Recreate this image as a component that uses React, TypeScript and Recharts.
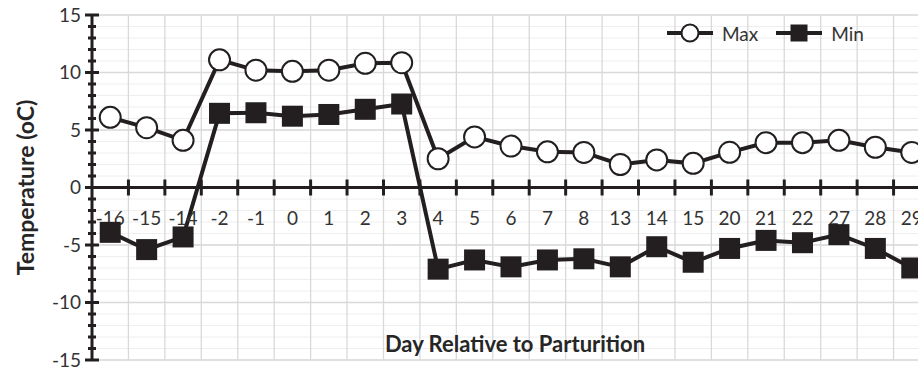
import React from 'react';
import { LineChart, Line, XAxis, YAxis, CartesianGrid, ReferenceLine, Legend, Label } from 'recharts';

const days = ['-16', '-15', '-14', '-2', '-1', '0', '1', '2', '3', '4', '5', '6', '7', '8', '13', '14', '15', '20', '21', '22', '27', '28', '29'];
const maxTemp = [6.1, 5.2, 4.1, 11.1, 10.2, 10.1, 10.2, 10.8, 10.85, 2.5, 4.4, 3.6, 3.1, 3.05, 2.0, 2.4, 2.1, 3.06, 3.9, 3.9, 4.1, 3.5, 3.05];
const minTemp = [-3.9, -5.4, -4.3, 6.45, 6.5, 6.2, 6.35, 6.8, 7.26, -7.1, -6.3, -6.9, -6.3, -6.2, -6.9, -5.15, -6.5, -5.3, -4.6, -4.8, -4.1, -5.3, -7.0];
const yTicks = [-15, -10, -5, 0, 5, 10, 15];
const seriesNames = ['Max', 'Min'];

const data = days.map((d, i) => ({ idx: i, day: d, max: maxTemp[i], min: minTemp[i] }));

const INK = '#231f20';
const TXT = '#333';
const FONT = 'Lato, "Open Sans", sans-serif';
const CHART_W = 940;
const CHART_H = 371;
const MARGIN = { top: 15, right: 10, bottom: 0, left: 0 };
const Y_W = 92;
const X_H = 11;
const PLOT_W = CHART_W - MARGIN.left - MARGIN.right - Y_W;
const PLOT_H = CHART_H - MARGIN.top - MARGIN.bottom - X_H;
const BAND = PLOT_W / days.length;

const yMin = yTicks[0];
const yMax = yTicks[yTicks.length - 1];
const minorY = Array.from({ length: yMax - yMin + 1 }, (_, k) => yMin + k);
const xIdx = days.map((_, i) => i);
const xBounds = Array.from({ length: days.length + 1 }, (_, k) => k - 0.5);

const YTick = (props: any) => {
  const { x, y, payload } = props;
  const v = payload.value as number;
  const major = v % 5 === 0;
  const half = major ? 7 : 4;
  return (
    <g>
      <line x1={x - half} x2={x + half} y1={y} y2={y} stroke={INK} strokeWidth={3} />
      {major && (
        <text x={x - 11} y={y} dy="0.36em" textAnchor="end" fontFamily={FONT} fontSize={19} fill={TXT}>
          {v}
        </text>
      )}
    </g>
  );
};

// x-axis tick marks sit on the zero line, at category boundaries
const XTick = (props: any) => {
  const { x, y } = props;
  const zeroY = y - PLOT_H / 2;
  return <line x1={x + BAND / 2} x2={x + BAND / 2} y1={zeroY - 8} y2={zeroY + 8} stroke={INK} strokeWidth={3} />;
};

// category labels drawn beneath the series, just below the zero line
const DayLabel = (props: any) => {
  const { cx, cy, index } = props;
  if (cx == null || cy == null) return null;
  return (
    <text key={`l${index}`} x={cx} y={cy + 31} dy="0.36em" textAnchor="middle" fontFamily={FONT} fontSize={19} fill={TXT}>
      {days[index]}
    </text>
  );
};

const CircleDot = (props: any) => {
  const { cx, cy, index } = props;
  if (cx == null || cy == null) return null;
  return <circle key={`c${index}`} cx={cx} cy={cy} r={10.5} fill="#fff" stroke={INK} strokeWidth={2} />;
};

const SquareDot = (props: any) => {
  const { cx, cy, index } = props;
  if (cx == null || cy == null) return null;
  return <rect key={`s${index}`} x={cx - 10.5} y={cy - 10.5} width={21} height={21} fill={INK} />;
};

const YTitle = (props: any) => {
  const vb = props.viewBox || { x: 0, y: MARGIN.top, width: Y_W, height: PLOT_H };
  const cx = vb.x + 34;
  const cy = vb.y + vb.height / 2;
  return (
    <text x={cx} y={cy} transform={`rotate(-90, ${cx}, ${cy})`} textAnchor="middle" fontFamily={FONT} fontWeight={700} fontSize={23} fill="#262626">
      Temperature (oC)
    </text>
  );
};

const XTitle = (props: any) => {
  const vb = props.viewBox || { x: Y_W, y: MARGIN.top + PLOT_H, width: PLOT_W, height: X_H };
  return (
    <text x={vb.x + vb.width / 2 + 4} y={vb.y - 8} textAnchor="middle" fontFamily={FONT} fontWeight={700} fontSize={22} fill="#262626">
      Day Relative to Parturition
    </text>
  );
};

const LegendContent = () => (
  <div style={{ display: 'flex', alignItems: 'center', fontFamily: FONT, fontSize: 19, color: TXT, whiteSpace: 'nowrap' }}>
    <svg width={46} height={24} style={{ display: 'block' }}>
      <line x1={0} x2={46} y1={12} y2={12} stroke={INK} strokeWidth={4} />
      <circle cx={23} cy={12} r={8.5} fill="#fff" stroke={INK} strokeWidth={2} />
    </svg>
    <span style={{ marginLeft: 9, marginRight: 18 }}>{seriesNames[0]}</span>
    <svg width={46} height={24} style={{ display: 'block' }}>
      <line x1={0} x2={46} y1={12} y2={12} stroke={INK} strokeWidth={4} />
      <rect x={14.5} y={3.5} width={17} height={17} fill={INK} />
    </svg>
    <span style={{ marginLeft: 9 }}>{seriesNames[1]}</span>
  </div>
);

export default function App() {
  return (
    <div style={{ position: 'absolute', left: 0, top: 0, width: 918, height: 371, overflow: 'hidden', background: '#fff' }}>
      <LineChart width={CHART_W} height={CHART_H} data={data} margin={MARGIN}>
        <CartesianGrid horizontalValues={minorY} vertical={false} stroke="#eeeeee" strokeWidth={1} />
        <CartesianGrid horizontalValues={yTicks} verticalValues={xBounds} stroke="#d9d9d9" strokeWidth={1.3} />
        <XAxis
          dataKey="idx"
          type="number"
          domain={[-0.5, days.length - 0.5]}
          ticks={xIdx}
          interval={0}
          height={X_H}
          axisLine={false}
          tickLine={false}
          tickSize={0}
          tickMargin={0}
          tick={<XTick />}
          allowDataOverflow
        >
          <Label content={<XTitle />} />
        </XAxis>
        <YAxis
          type="number"
          domain={[yMin, yMax]}
          ticks={minorY}
          interval={0}
          width={Y_W}
          axisLine={{ stroke: INK, strokeWidth: 3 }}
          tickLine={false}
          tickSize={0}
          tickMargin={0}
          tick={<YTick />}
          allowDataOverflow
        >
          <Label content={<YTitle />} />
        </YAxis>
        <ReferenceLine y={0} stroke={INK} strokeWidth={3} />
        <Legend
          layout="horizontal"
          verticalAlign="middle"
          align="center"
          content={<LegendContent />}
          wrapperStyle={{ top: 21, left: 667, width: 'auto' }}
        />
        <Line dataKey={() => 0} name="labels" stroke="none" dot={<DayLabel />} activeDot={false} legendType="none" isAnimationActive={false} />
        <Line dataKey="max" name={seriesNames[0]} stroke={INK} strokeWidth={4} dot={<CircleDot />} activeDot={false} isAnimationActive={false} />
        <Line dataKey="min" name={seriesNames[1]} stroke={INK} strokeWidth={4} dot={<SquareDot />} activeDot={false} isAnimationActive={false} />
      </LineChart>
    </div>
  );
}
